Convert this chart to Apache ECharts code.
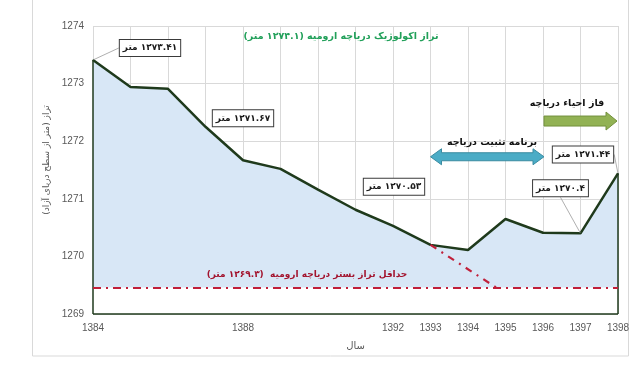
<!DOCTYPE html>
<html>
<head>
<meta charset="utf-8">
<script src="https://cdn.jsdelivr.net/npm/echarts@6/dist/echarts.min.js"></script>
<style>html,body{margin:0;padding:0;background:#fff}#c{width:642px;height:365px}</style>
</head>
<body>
<div id="c"></div>
<script>
// ---- data ----
const years = [1384,1385,1386,1387,1388,1389,1390,1391,1392,1393,1394,1395,1396,1397,1398];
const levels = [1273.41,1272.94,1272.91,1272.25,1271.67,1271.52,1271.16,1270.81,1270.53,1270.20,1270.11,1270.65,1270.41,1270.40,1271.44];
const shownYears = [1384,1388,1392,1393,1394,1395,1396,1397,1398];
const yTicks = [1269,1270,1271,1272,1273,1274];
const labelledYears = [1384,1388,1392,1397,1398];
const ecologicalLevel = 1274.12;      // drawn level of the ecological line
const bedLevel = 1269.46;             // drawn level of the minimum bed line
const projectionYears = [1393, 1394.75];
const projectionLevels = [1270.20, 1269.46];
const stabilizationSpan = [1393, 1396];
const revivalSpan = [1396, 1398];
const texts = {
  ecological: 'تراز اکولوژیک دریاچه ارومیه (۱۲۷۴.۱ متر)',
  bed: 'حداقل تراز بستر دریاچه ارومیه  (۱۲۶۹.۳ متر)',
  revival: 'فاز احیاء دریاچه',
  stabilization: 'برنامه تثبیت دریاچه',
  xName: 'سال',
  yName: 'تراز (متر از سطح دریای آزاد)',
  unit: 'متر'
};

// ---- styles ----
const labelOffsets = {1384:[57,-12], 1388:[0,-42], 1392:[1,-39], 1397:[-20,-45], 1398:[-35,-19]};
const leaderYears = [1384,1397,1398];
const faDigits = '۰۱۲۳۴۵۶۷۸۹';
const toFa = s => String(s).replace(/[0-9]/g, d => faDigits[+d]);
const RLE = '\u202B', PDF = '\u202C', RLM = '\u200F';
const outline = '#1f3a1c';
const faFont = 'DejaVu Sans';
const xFirst = years[0], xLast = years[years.length-1];

const chart = echarts.init(document.getElementById('c'), null, {renderer:'canvas'});

const mainData = years.map((y,i) => {
  const item = {value:[y, levels[i]]};
  if (labelledYears.includes(y)) {
    item.label = {show:true};
    item.labelLine = {show: leaderYears.includes(y)};
  }
  return item;
});

const option = {
  animation:false,
  grid:{left:93, right:24, top:26, bottom:51},
  xAxis:{
    type:'value', min:xFirst, max:xLast, interval:1,
    axisLine:{show:false}, axisTick:{show:false},
    axisLabel:{margin:9, color:'#595959', fontSize:10, fontFamily:'Liberation Sans',
      formatter: v => shownYears.includes(v) ? String(v) : ''},
    splitLine:{show:true, lineStyle:{color:'#d9d9d9', width:1}},
    name: texts.xName, nameLocation:'middle', nameGap:27,
    nameTextStyle:{color:'#595959', fontSize:10, fontFamily:faFont}
  },
  yAxis:{
    type:'value', min:yTicks[0], max:yTicks[yTicks.length-1], interval:1,
    axisLine:{show:false}, axisTick:{show:false},
    axisLabel:{margin:9, color:'#595959', fontSize:10, fontFamily:'Liberation Sans',
      formatter: v => String(v)},
    splitLine:{show:true, lineStyle:{color:'#d9d9d9', width:1}},
    name: RLE + texts.yName + PDF, nameLocation:'middle', nameGap:40, nameRotate:90,
    nameTextStyle:{color:'#595959', fontSize:9, fontFamily:faFont, padding:[0,0,0,20]}
  },
  series:[
    {
      type:'line', name:'level', data: mainData,
      symbol:'circle', symbolSize:1, showSymbol:true,
      itemStyle:{color:outline},
      lineStyle:{color:outline, width:2.5},
      areaStyle:{color:'#d8e7f6', origin:'start', opacity:1},
      label:{show:false, position:'inside',
        formatter: p => RLM + toFa(p.value[1]) + ' ' + texts.unit,
        backgroundColor:'#fff', borderColor:'#3a3a3a', borderWidth:1,
        padding:[4,3,3,3], fontSize:9, fontWeight:'bold', color:'#1a1a1a', fontFamily:faFont},
      labelLine:{show:false, lineStyle:{color:'#9a9a9a', width:0.8}},
      labelLayout: p => {
        const yr = years[p.dataIndex];
        const o = labelOffsets[yr];
        if (!o) return {};
        return {x: p.rect.x + p.rect.width/2 + o[0], y: p.rect.y + p.rect.height/2 + o[1], align:'center', verticalAlign:'middle'};
      },
      z:2
    },
    {
      type:'line', name:'refs', data:[], silent:true, z:4,
      markLine:{
        silent:true, z:6, symbol:['none','none'], label:{show:false},
        lineStyle:{color:outline, width:1.5, type:'solid'},
        data:[
          [{coord:[xFirst, levels[0]]},{coord:[xFirst, yTicks[0]]}],
          [{coord:[xLast, levels[levels.length-1]]},{coord:[xLast, yTicks[0]]}],
          [{coord:[xFirst, yTicks[0]]},{coord:[xLast, yTicks[0]]}],
          [{coord:[xFirst, ecologicalLevel], lineStyle:{color:'#000', width:2.2, type:[8,4,2,4]}},{coord:[xLast+0.1, ecologicalLevel]}],
          [{coord:[xFirst, bedLevel], lineStyle:{color:'#c0203a', width:1.8, type:[8,5,2,5]}},{coord:[xLast, bedLevel]}],
          [{coord:[projectionYears[0], projectionLevels[0]], lineStyle:{color:'#c0203a', width:2.2, type:[7,6,2,6]}},{coord:[projectionYears[1], projectionLevels[1]]}]
        ]
      }
    }
  ]
};
chart.setOption(option);

// ---- annotations positioned from data space ----
const px = (x,y) => chart.convertToPixel({gridIndex:0}, [x,y]);
function doubleArrow(x1, x2, yc, bh, hh, hl) {
  return [[x1,yc],[x1+hl,yc-hh],[x1+hl,yc-bh],[x2-hl,yc-bh],[x2-hl,yc-hh],[x2,yc],[x2-hl,yc+hh],[x2-hl,yc+bh],[x1+hl,yc+bh],[x1+hl,yc+hh]];
}
function rightArrow(x1, x2, yc, bh, hh, hl) {
  return [[x1,yc-bh],[x2-hl,yc-bh],[x2-hl,yc-hh],[x2,yc],[x2-hl,yc+hh],[x2-hl,yc+bh],[x1,yc+bh]];
}
const sA = px(stabilizationSpan[0], 1271.73), sB = px(stabilizationSpan[1], 1271.73);
const rA = px(revivalSpan[0], 1272.35), rB = px(revivalSpan[1], 1272.35);
const bTL = px(xFirst, bedLevel), bBR = px(xLast, yTicks[0]);

chart.setOption({
  graphic:[
    {type:'rect', silent:true, z:0, shape:{x:32.5, y:-2, width:596, height:358}, style:{fill:'none', stroke:'#d9d9d9', lineWidth:1}},
    {type:'rect', silent:true, z:3, shape:{x:bTL[0], y:bTL[1], width:bBR[0]-bTL[0], height:bBR[1]-bTL[1]}, style:{fill:'#ffffff'}},
    {type:'polygon', z:10, shape:{points:doubleArrow(sA[0], sB[0]+1, sA[1], 4, 8, 11)}, style:{fill:'#4bacc6', stroke:'#3a8ba1', lineWidth:1}},
    {type:'polygon', z:10, shape:{points:rightArrow(rA[0]+1, rB[0]-1, rA[1], 5, 9, 11)}, style:{fill:'#92b254', stroke:'#73903c', lineWidth:1}},
    {type:'text', z:10, x:341, y:37, style:{text:RLE+texts.ecological+PDF, fill:'#22a05a', font:'bold 9.5px "DejaVu Sans"', align:'center', verticalAlign:'middle'}},
    {type:'text', z:10, x:307, y:275, style:{text:RLE+texts.bed+PDF, fill:'#a3142e', font:'bold 9px "DejaVu Sans"', align:'center', verticalAlign:'middle'}},
    {type:'text', z:10, x:567, y:104, style:{text:RLE+texts.revival+PDF, fill:'#111', font:'bold 9.5px "DejaVu Sans"', align:'center', verticalAlign:'middle'}},
    {type:'text', z:10, x:492, y:143, style:{text:RLE+texts.stabilization+PDF, fill:'#111', font:'bold 9.5px "DejaVu Sans"', align:'center', verticalAlign:'middle'}}
  ]
});
</script>
</body>
</html>
